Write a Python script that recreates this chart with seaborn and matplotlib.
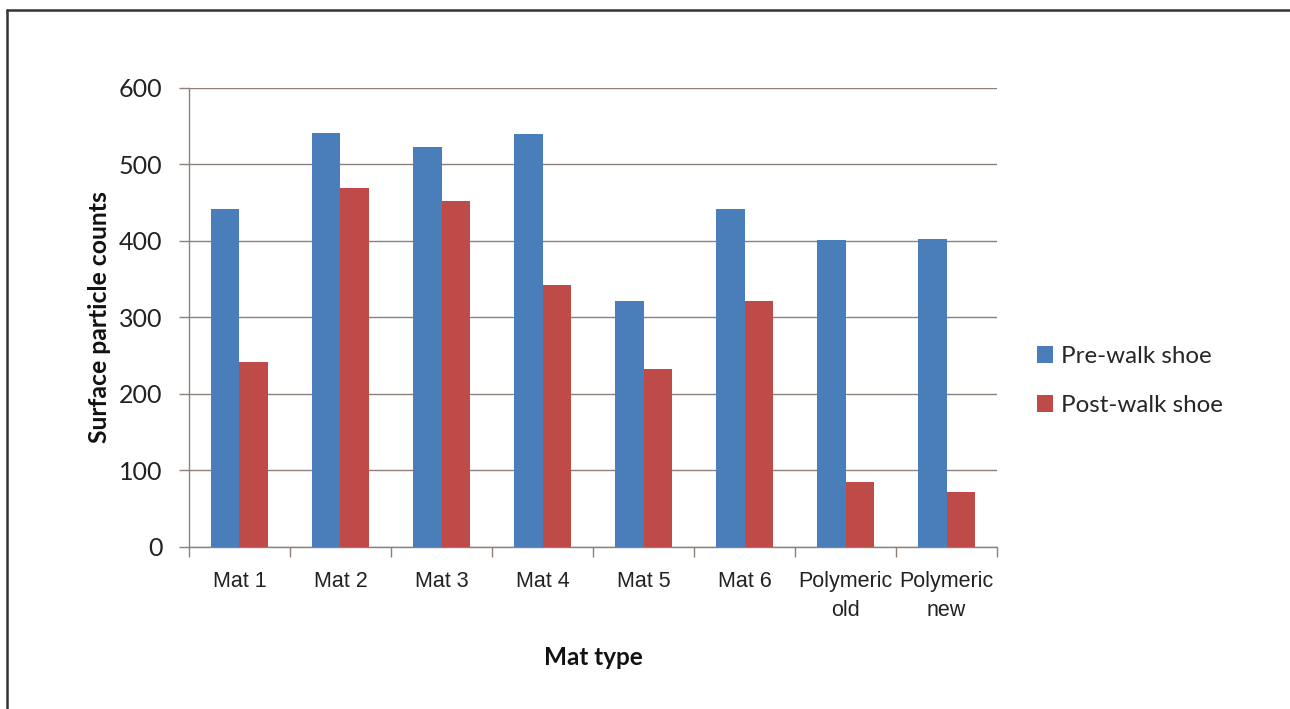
import pandas as pd
import numpy as np
import seaborn as sns
import matplotlib.pyplot as plt
from matplotlib.lines import Line2D

# Data
mats = ['Mat 1', 'Mat 2', 'Mat 3', 'Mat 4', 'Mat 5', 'Mat 6',
        'Polymeric\nold', 'Polymeric\nnew']
pre_walk = [442, 541, 523, 540, 322, 442, 401, 402]
post_walk = [242, 469, 452, 342, 233, 322, 85, 72]
series = ['Pre-walk shoe', 'Post-walk shoe']

df = pd.DataFrame({
    'Mat': mats * 2,
    'Count': pre_walk + post_walk,
    'Shoe': [series[0]] * len(mats) + [series[1]] * len(mats),
})

sns.set_style('white')
plt.rcParams['font.family'] = ['Lato', 'DejaVu Sans']

grid_col = '#8E8079'

fig = plt.figure(figsize=(12.9, 7.09), dpi=100)
ax = fig.add_axes([0.1465, 0.2285, 0.6264, 0.6474])

sns.barplot(data=df, x='Mat', y='Count', hue='Shoe', hue_order=series,
            palette=['#4A7EBB', '#BE4B48'], width=0.565, saturation=1,
            linewidth=0, ax=ax, zorder=3)

ax.set_ylim(0, 600)
ax.set_xlim(-0.5, len(mats) - 0.5)
ax.set_yticks(np.arange(0, 601, 100))
ax.yaxis.grid(True, color=grid_col, linewidth=1.0, zorder=0)
ax.set_axisbelow(True)

for s in ['top', 'right']:
    ax.spines[s].set_visible(False)
for s in ['left', 'bottom']:
    ax.spines[s].set_color(grid_col)
    ax.spines[s].set_linewidth(1.0)

# y ticks
ax.tick_params(axis='y', which='major', left=True, length=7, width=1,
               color=grid_col, labelsize=18, labelcolor='#222222', pad=12)
# x: labels centred, tick marks between categories
ax.set_xticks(np.arange(len(mats)))
ax.set_xticklabels(mats, fontfamily='Liberation Sans', fontsize=15.5,
                   color='#222222', linespacing=1.5)
ax.set_xticks(np.arange(len(mats) + 1) - 0.5, minor=True)
ax.tick_params(axis='x', which='major', bottom=False, length=0, pad=17)
ax.tick_params(axis='x', which='minor', bottom=True, length=7, width=1,
               color=grid_col)

ax.set_xlabel('Mat type', fontsize=17.5, fontweight='bold', color='#111111',
              labelpad=18)
ax.set_ylabel('Surface particle counts', fontsize=17.8, fontweight='bold',
              color='#111111', labelpad=6)

ax.legend(title=None, frameon=False, loc='center left',
          bbox_to_anchor=(1.022, 0.362), fontsize=17.4, handlelength=0.7,
          handleheight=0.7, handletextpad=0.3, labelspacing=1.15)

# frame around the picture (left and top edges)
fig.add_artist(Line2D([0.0055, 0.0055], [0, 0.986], transform=fig.transFigure,
                      color='#333333', linewidth=1.8))
fig.add_artist(Line2D([0.0055, 1.0], [0.986, 0.986], transform=fig.transFigure,
                      color='#333333', linewidth=1.8))

plt.savefig('out.png', dpi=100)
plt.close()
